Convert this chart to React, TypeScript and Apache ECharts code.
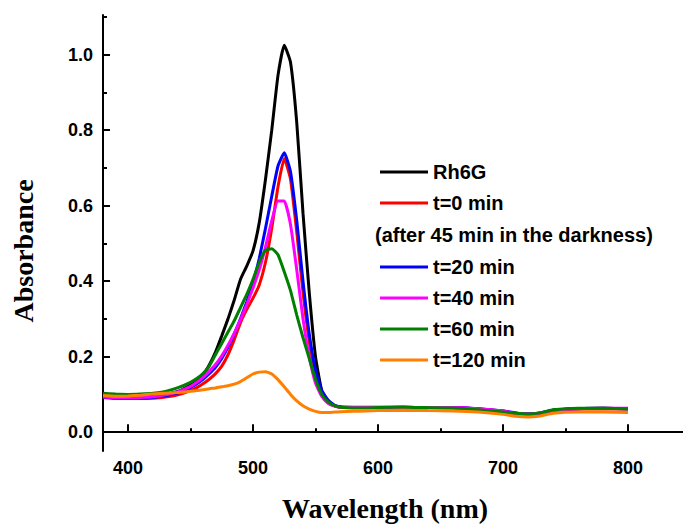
import React, { useEffect, useRef } from "react";
import * as echarts from "echarts";

const wavelengths = [
  380, 390, 400, 410, 420, 430, 440,
  450, 455, 460, 465, 470, 475, 480, 485, 490, 495, 500,
  505, 510, 515, 520, 525, 530, 535, 540, 545, 550,
  555, 560, 565, 570,
  580, 590, 600,
  620, 640, 660, 680, 700,
  710, 720, 730, 740,
  760, 780, 800,
];

const rh6g = [
  0.095, 0.092, 0.092, 0.093, 0.095, 0.1, 0.108,
  0.125, 0.138, 0.152, 0.178, 0.212, 0.255, 0.3, 0.35, 0.405, 0.44, 0.48,
  0.555, 0.67, 0.8, 0.945, 1.025, 0.98, 0.82, 0.58, 0.37, 0.2,
  0.11, 0.08, 0.07, 0.066,
  0.065, 0.065, 0.065,
  0.066, 0.065, 0.065, 0.061, 0.055,
  0.05, 0.048, 0.05, 0.058,
  0.062, 0.063, 0.062,
];

const t0 = [
  0.092, 0.09, 0.089, 0.089, 0.09, 0.093, 0.099,
  0.11, 0.118, 0.128, 0.14, 0.155, 0.175, 0.205, 0.245, 0.29, 0.325, 0.355,
  0.39, 0.45, 0.54, 0.65, 0.725, 0.67, 0.53, 0.37, 0.24, 0.15,
  0.1, 0.078, 0.07, 0.066,
  0.065, 0.065, 0.065,
  0.065, 0.065, 0.064, 0.061, 0.055,
  0.05, 0.047, 0.05, 0.057,
  0.061, 0.062, 0.061,
];

const t20 = [
  0.092, 0.09, 0.09, 0.09, 0.092, 0.096, 0.104,
  0.118, 0.128, 0.14, 0.155, 0.172, 0.195, 0.225, 0.26, 0.3, 0.345, 0.395,
  0.46, 0.54, 0.625, 0.705, 0.74, 0.69, 0.56, 0.4, 0.26, 0.165,
  0.11, 0.085, 0.072, 0.067,
  0.066, 0.066, 0.066,
  0.066, 0.065, 0.065, 0.062, 0.056,
  0.051, 0.048, 0.051, 0.058,
  0.062, 0.063, 0.062,
];

const t40 = [
  0.093, 0.091, 0.091, 0.092, 0.094, 0.099, 0.107,
  0.121, 0.132, 0.145, 0.161, 0.179, 0.202, 0.23, 0.262, 0.298, 0.338, 0.382,
  0.43, 0.49, 0.56, 0.612, 0.612, 0.55, 0.43, 0.3, 0.2, 0.13,
  0.095, 0.076, 0.069, 0.066,
  0.065, 0.065, 0.065,
  0.066, 0.065, 0.065, 0.062, 0.056,
  0.05, 0.048, 0.051, 0.058,
  0.062, 0.063, 0.063,
];

const t60 = [
  0.103, 0.101, 0.1, 0.101, 0.103, 0.108, 0.118,
  0.132, 0.142, 0.155, 0.175, 0.205, 0.235, 0.265, 0.295, 0.33, 0.365, 0.405,
  0.45, 0.482, 0.486, 0.47, 0.425, 0.375, 0.31, 0.25, 0.195, 0.14,
  0.1, 0.08, 0.07, 0.066,
  0.064, 0.064, 0.065,
  0.066, 0.065, 0.064, 0.059, 0.053,
  0.05, 0.048, 0.051, 0.059,
  0.063, 0.063, 0.062,
];

const t120 = [
  0.097, 0.095, 0.096, 0.098, 0.101, 0.103, 0.105,
  0.108, 0.11, 0.112, 0.115, 0.117, 0.12, 0.123, 0.127, 0.134, 0.144, 0.154,
  0.159, 0.16, 0.154, 0.139, 0.12, 0.1, 0.083, 0.07, 0.061, 0.055,
  0.052, 0.052, 0.053, 0.054,
  0.055, 0.056, 0.057,
  0.058, 0.057, 0.056, 0.053, 0.047,
  0.042, 0.04, 0.043, 0.05,
  0.053, 0.053, 0.052,
];

const seriesNames = ["Rh6G", "t=0 min", "t=20 min", "t=40 min", "t=60 min", "t=120 min"];
const seriesColors = ["#000000", "#ff0000", "#0000ff", "#ff00ff", "#008000", "#ff8000"];
const seriesValues = [rh6g, t0, t20, t40, t60, t120];

const xMajorTicks = [400, 500, 600, 700, 800];
const xMinorTicks = [450, 550, 650, 750];
const yMajorTicks = [0, 0.2, 0.4, 0.6, 0.8, 1.0];
const yMinorTicks = [0.1, 0.3, 0.5, 0.7, 0.9, 1.1];

const X_MIN = 380;
const X_MAX = 844;
const Y_MIN = -0.05;
const Y_MAX = 1.105;

const sans = "Liberation Sans";
const serif = "Liberation Serif";

export default function App() {
  const ref = useRef<HTMLDivElement>(null);

  useEffect(() => {
    if (!ref.current) return;
    const chart = echarts.init(ref.current, undefined, { renderer: "svg" });

    const axisLineStyle = { color: "#000", width: 2 };
    const legendText = { fontFamily: sans, fontWeight: "bold", fontSize: 20, color: "#000", lineHeight: 20 };

    const option: any = {
      animation: false,
      backgroundColor: "#ffffff",
      grid: { left: 103, right: 0, top: 15, bottom: 76, containLabel: false },
      xAxis: [
        {
          type: "value",
          min: X_MIN,
          max: X_MAX,
          position: "bottom",
          axisLine: { show: true, lineStyle: axisLineStyle },
          axisTick: { show: true, inside: true, length: 8, lineStyle: axisLineStyle, customValues: xMajorTicks },
          axisLabel: {
            customValues: xMajorTicks,
            color: "#000",
            fontFamily: sans,
            fontWeight: "bold",
            fontSize: 18,
            margin: 8,
          },
          splitLine: { show: false },
        },
        {
          type: "value",
          min: X_MIN,
          max: X_MAX,
          position: "bottom",
          axisLine: { show: false },
          axisTick: { show: true, inside: true, length: 4, lineStyle: axisLineStyle, customValues: xMinorTicks },
          axisLabel: { show: false },
          splitLine: { show: false },
        },
      ],
      yAxis: [
        {
          type: "value",
          min: Y_MIN,
          max: Y_MAX,
          position: "left",
          axisLine: { show: true, lineStyle: axisLineStyle },
          axisTick: { show: true, inside: true, length: 7, lineStyle: axisLineStyle, customValues: yMajorTicks },
          axisLabel: {
            customValues: yMajorTicks,
            formatter: (v: number) => v.toFixed(1),
            color: "#000",
            fontFamily: sans,
            fontWeight: "bold",
            fontSize: 18,
            margin: 10,
          },
          splitLine: { show: false },
        },
        {
          type: "value",
          min: Y_MIN,
          max: Y_MAX,
          position: "left",
          axisLine: { show: false },
          axisTick: { show: true, inside: true, length: 4, lineStyle: axisLineStyle, customValues: yMinorTicks },
          axisLabel: { show: false },
          splitLine: { show: false },
        },
      ],
      legend: [
        {
          data: seriesNames.slice(0, 2),
          orient: "vertical",
          left: 375,
          top: 157,
          icon: "rect",
          itemWidth: 48,
          itemHeight: 3,
          itemGap: 11,
          textStyle: legendText,
        },
        {
          data: seriesNames.slice(2),
          orient: "vertical",
          left: 375,
          top: 252,
          icon: "rect",
          itemWidth: 48,
          itemHeight: 3,
          itemGap: 11,
          textStyle: legendText,
        },
      ],
      graphic: [
        {
          type: "text",
          x: 375,
          y: 235,
          style: {
            text: "(after 45 min in the darkness)",
            font: `bold 20px "${sans}"`,
            fill: "#000",
            align: "left",
            verticalAlign: "middle",
          },
        },
        {
          type: "text",
          x: 23,
          y: 251,
          rotation: Math.PI / 2,
          style: {
            text: "Absorbance",
            font: `bold 28px "${serif}"`,
            fill: "#000",
            align: "center",
            verticalAlign: "middle",
          },
        },
        {
          type: "text",
          x: 385,
          y: 508,
          style: {
            text: "Wavelength (nm)",
            font: `bold 28px "${serif}"`,
            fill: "#000",
            align: "center",
            verticalAlign: "middle",
          },
        },
      ],
      series: seriesNames.map((name, i) => ({
        name,
        type: "line",
        xAxisIndex: 0,
        yAxisIndex: 0,
        data: wavelengths.map((w, j) => [w, seriesValues[i][j]]),
        showSymbol: false,
        symbol: "none",
        smooth: 0.15,
        color: seriesColors[i],
        lineStyle: { color: seriesColors[i], width: 3 },
        itemStyle: { color: seriesColors[i] },
        z: 2 + i,
      })),
    };

    chart.setOption(option);
    return () => chart.dispose();
  }, []);

  return (
    <div
      ref={ref}
      style={{ position: "absolute", left: 0, top: 0, width: 683, height: 527 }}
    />
  );
}
